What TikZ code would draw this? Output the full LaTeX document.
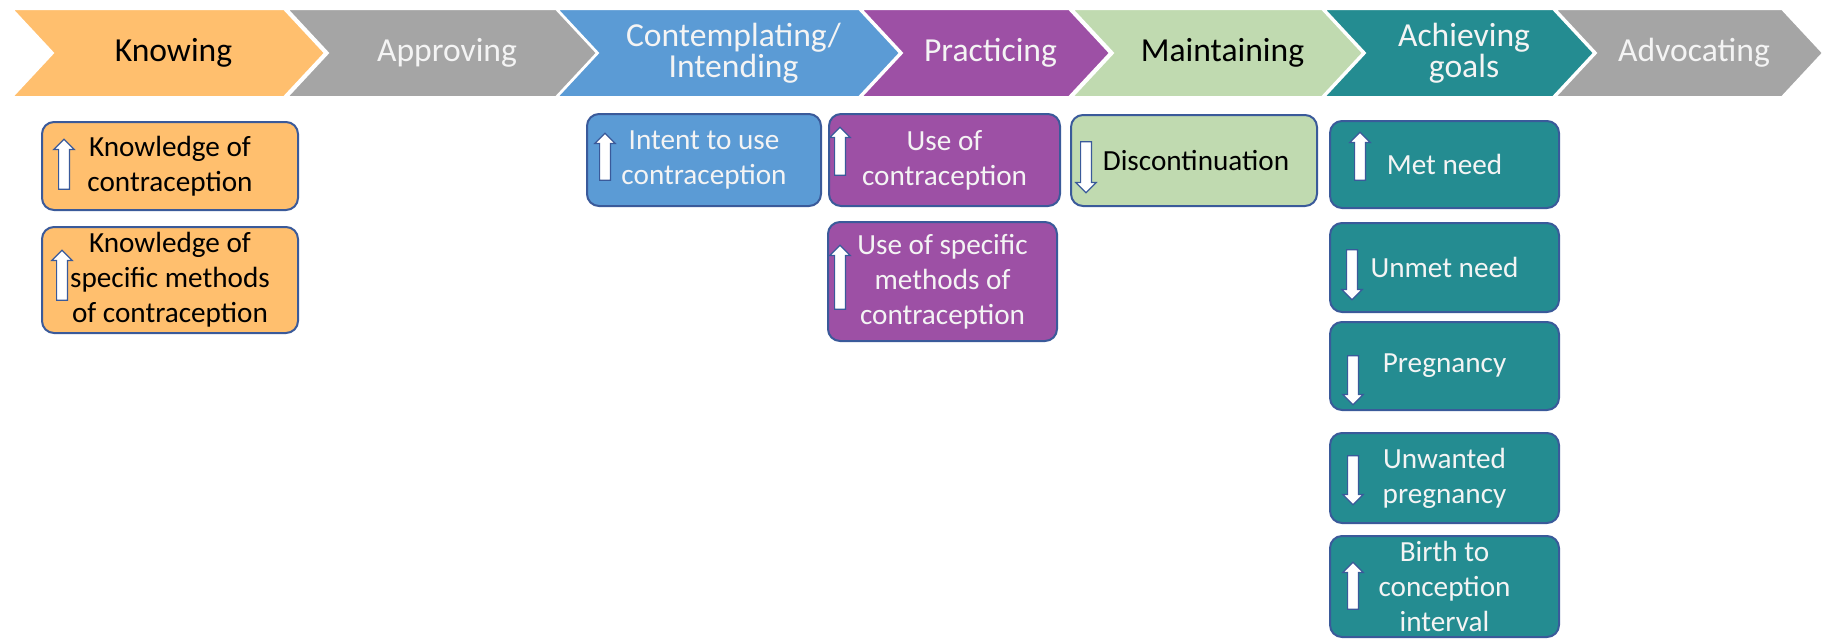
\documentclass[tikz,border=0pt]{standalone}
\usepackage{fontspec}
\setmainfont{Carlito}
\usetikzlibrary{shapes.arrows}
\definecolor{knowcol}{HTML}{FFBF6E}
\definecolor{greycol}{HTML}{A5A5A5}
\definecolor{intcol}{HTML}{5B9BD5}
\definecolor{praccol}{HTML}{9D50A5}
\definecolor{maintcol}{HTML}{C0DAB0}
\definecolor{goalcol}{HTML}{248C91}
\definecolor{boxline}{HTML}{3A5A9A}
\definecolor{lighttxt}{HTML}{F4F4F4}
\begin{document}
\begin{tikzpicture}[x=0.5pt, y=-0.5pt,
	chev/.style={draw=white, line width=1pt},
	chevtxt/.style={align=center, font=\fontsize{16.8}{15.5}\selectfont},
	box/.style={draw=boxline, line width=1pt, rounded corners=6pt, align=center, inner sep=0pt, font=\fontsize{14.6}{17.5}\selectfont},
	arr/.style={single arrow, draw=boxline, fill=white, line width=0.6pt, inner xsep=0pt, inner ysep=2.4pt, single arrow head extend=2.4pt},
	arrup/.style={arr, rotate=90},
	arrdown/.style={arr, rotate=-90}]
	\useasboundingbox (0,0) rectangle (1824,638);

	\draw[chev, fill=knowcol] (12,9) -- (284,9) -- (325,53) -- (284,97) -- (12,97) -- (53,53) -- cycle;
	\draw[chev, fill=greycol] (287,9) -- (556,9) -- (597,53) -- (556,97) -- (287,97) -- (328,53) -- cycle;
	\draw[chev, fill=intcol] (557,9) -- (859,9) -- (900,53) -- (859,97) -- (557,97) -- (598,53) -- cycle;
	\draw[chev, fill=praccol] (861,9) -- (1069,9) -- (1110,53) -- (1069,97) -- (861,97) -- (902,53) -- cycle;
	\draw[chev, fill=maintcol] (1072,9) -- (1322,9) -- (1363,53) -- (1322,97) -- (1072,97) -- (1113,53) -- cycle;
	\draw[chev, fill=goalcol] (1324,9) -- (1553,9) -- (1594,53) -- (1553,97) -- (1324,97) -- (1365,53) -- cycle;
	\draw[chev, fill=greycol] (1555,9) -- (1782,9) -- (1823,53) -- (1782,97) -- (1555,97) -- (1596,53) -- cycle;

	\node[chevtxt] (knowing) at (173.5,53) {Knowing};
	\node[chevtxt, text=lighttxt] (approving) at (447,53) {Approving};
	\node[chevtxt, text=lighttxt] (intending) at (733.5,53) {Contemplating/\\Intending};
	\node[chevtxt, text=lighttxt] (practicing) at (990.5,53) {Practicing};
	\node[chevtxt] (maintaining) at (1222.5,53) {Maintaining};
	\node[chevtxt, text=lighttxt] (achieving) at (1464,53) {Achieving\\goals};
	\node[chevtxt, text=lighttxt] (advocating) at (1694,53) {Advocating};

	\node[box, fill=knowcol, minimum width=128pt, minimum height=44pt] (knowc) at (170,166) {Knowledge of\\contraception};
	\node[box, fill=knowcol, minimum width=128pt, minimum height=53pt] (knowm) at (170,280) {Knowledge of\\specific methods\\of contraception};
	\node[box, fill=intcol, text=lighttxt, minimum width=117pt, minimum height=46pt] (intent) at (704,160) {Intent to use\\contraception};
	\node[box, fill=praccol, text=lighttxt, minimum width=115.5pt, minimum height=46pt] (usec) at (944.5,160) {Use of\\contraception};
	\node[box, fill=praccol, text=lighttxt, minimum width=114.5pt, minimum height=59.5pt] (usem) at (942.5,281.5) {Use of specific\\methods of\\contraception};
	\node[box, fill=maintcol, minimum width=123pt, minimum height=45.5pt] (discont) at (1194,160.5) {\hspace*{2pt}Discontinuation};
	\node[box, fill=goalcol, text=lighttxt, minimum width=114.5pt, minimum height=43.5pt] (metneed) at (1444.5,164.5) {Met need};
	\node[box, fill=goalcol, text=lighttxt, minimum width=114.5pt, minimum height=44.5pt] (unmetneed) at (1444.5,267.5) {Unmet need};
	\node[box, fill=goalcol, text=lighttxt, minimum width=114.5pt, minimum height=44pt] (pregnancy) at (1444.5,366) {Pregnancy};
	\node[box, fill=goalcol, text=lighttxt, minimum width=114.5pt, minimum height=45pt] (unwanted) at (1444.5,478) {Unwanted\\pregnancy};
	\node[box, fill=goalcol, text=lighttxt, minimum width=114.5pt, minimum height=50.5pt] (birth) at (1444.5,586.5) {Birth to\\conception\\interval};

	\node[arrup, minimum height=25pt] (knowc-a) at (64,167) {};
	\node[arrup, minimum height=25pt] (knowm-a) at (62,278) {};
	\node[arrup, minimum height=23.5pt] (intent-a) at (605,159.5) {};
	\node[arrup, minimum height=24pt] (usec-a) at (840,154) {};
	\node[arrup, minimum height=32pt] (usem-a) at (840,280) {};
	\node[arrdown, minimum height=25.5pt] (discont-a) at (1086,164.5) {};
	\node[arrup, minimum height=24pt] (metneed-a) at (1360,159) {};
	\node[arrdown, minimum height=25pt] (unmetneed-a) at (1352,272) {};
	\node[arrdown, minimum height=24.5pt] (pregnancy-a) at (1353,377.5) {};
	\node[arrdown, minimum height=24.5pt] (unwanted-a) at (1353,477.5) {};
	\node[arrup, minimum height=23.5pt] (birth-a) at (1353,588.5) {};
\end{tikzpicture}
\end{document}
